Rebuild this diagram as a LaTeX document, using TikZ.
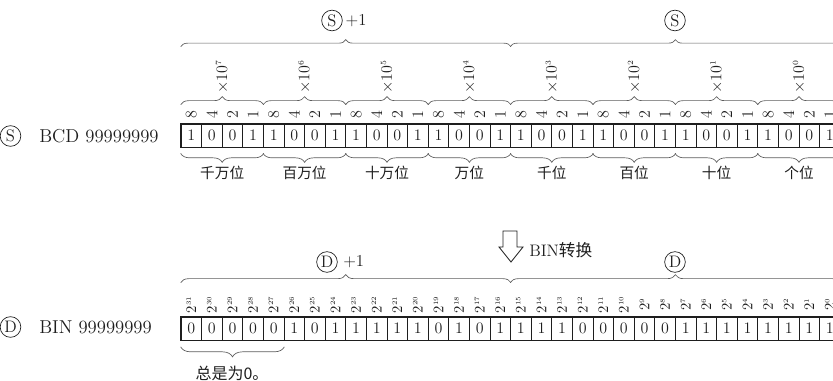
\documentclass[tikz,border=0pt]{standalone}
\usepackage{fontspec}
\newfontfamily\cjk{Noto Sans CJK SC}
\usetikzlibrary{positioning,calc,decorations.pathreplacing}
\definecolor{ink}{HTML}{1E1E1E}
\definecolor{braceGray}{HTML}{5C5C5C}
\tikzset{
  cell/.style={draw=ink,line width=0.5pt,minimum width=15.45pt,minimum height=17.25pt,
               inner sep=0pt,text=ink,font=\fontsize{12}{12}\selectfont},
  weight/.style={rotate=90,inner sep=0pt,text=ink,font=\fontsize{12}{12}\selectfont},
  pow/.style={rotate=90,inner sep=0pt,text=ink,font=\fontsize{11}{11}\selectfont},
  decade/.style={rotate=90,inner sep=0pt,text=ink,font=\fontsize{13}{13}\selectfont},
  grp brace/.style={draw=braceGray,line width=0.5pt,decorate,decoration={brace,amplitude=#1}},
  circ/.style={circle,draw=ink,line width=0.5pt,inner sep=0pt,minimum size=15.5pt,
               text=ink,font=\fontsize{12.5}{12.5}\selectfont},
  lbl/.style={inner sep=0pt,text=ink,font=\fontsize{12.5}{12.5}\selectfont},
  place/.style={inner sep=0pt,text=ink,font=\cjk\fontsize{11}{11}\selectfont}
}
\begin{document}
\begin{tikzpicture}[x=0.75pt,y=-0.75pt]
  \useasboundingbox (0,0) rectangle (833,381);
  \clip (0,0) rectangle (833,381);

  % BCD register
  \node[circ] (sName) at (10.5,136) {S};
  \node[lbl,font=\fontsize{14}{14}\selectfont,anchor=west] (sText) at (39,136) {BCD 99999999};
  \foreach \v [count=\i from 0] in {1,0,0,1,1,0,0,1,1,0,0,1,1,0,0,1,
                                    1,0,0,1,1,0,0,1,1,0,0,1,1,0,0,1} {
    \node[cell] (tc\i) at (191.3+20.6*\i,135.5) {\v};
    \pgfmathtruncatemacro\w{2^(3-mod(\i,4))}
    \node[weight] (tw\i) at ($(tc\i.north)+(0,-9)$) {\w};
  }
  \draw[line width=0.9pt,ink] (tc0.north west) rectangle (tc31.south east);

  % decades and digit places
  \foreach \g/\name in {0/千万位,1/百万位,2/十万位,3/万位,4/千位,5/百位,6/十位,7/个位} {
    \pgfmathtruncatemacro\a{4*\g}
    \pgfmathtruncatemacro\b{4*\g+3}
    \pgfmathtruncatemacro\p{7-\g}
    \draw[grp brace=6pt] ($(tc\a.north west)+(0,-19)$) -- ($(tc\b.north east)+(0,-19)$);
    \node[decade] (tx\g) at ($(tc\a.north west)!0.5!(tc\b.north east)+(0,-47)$)
      {$\times10^{\scriptscriptstyle\p}$};
    \draw[grp brace=6.75pt] ($(tc\b.south east)+(0,6)$) -- ($(tc\a.south west)+(0,6)$);
    \node[place] (tp\g) at ($(tc\a.south west)!0.5!(tc\b.south east)+(0,26)$) {\name};
  }

  % upper and lower word
  \draw[grp brace=5.25pt] ($(tc0.north west)+(0,-77)$) -- ($(tc15.north east)+(0,-77)$);
  \draw[grp brace=5.25pt] ($(tc16.north west)+(0,-77)$) -- ($(tc31.north east)+(0,-77)$);
  \node[circ] (sHi) at (332,20.5) {S};
  \node[lbl,right=2pt of sHi] (sHiPlus) {+1};
  \node[circ] (sLo) at (675,20.5) {S};

  % conversion
  \draw[ink,line width=0.6pt,fill=white] (503,231) -- (517,231) -- (517,247) -- (523,247)
    -- (511,262) -- (499,247) -- (503,247) -- cycle;
  \node[lbl,anchor=west] (conv) at (529,250) {BIN{\cjk 转换}};

  % BIN register
  \node[circ] (dName) at (10.5,327) {D};
  \node[lbl,font=\fontsize{14}{14}\selectfont,anchor=west] (dText) at (39,327) {BIN 99999999};
  \foreach \v [count=\i from 0] in {0,0,0,0,0,1,0,1,1,1,1,1,0,1,0,1,
                                    1,1,1,0,0,0,0,0,1,1,1,1,1,1,1,1} {
    \node[cell] (bc\i) at (191.3+20.6*\i,328.5) {\v};
    \pgfmathtruncatemacro\e{31-\i}
    \node[pow] (bw\i) at ($(bc\i.north)+(0,-12)$) {$2^{\scriptscriptstyle\e}$};
  }
  \draw[line width=0.9pt,ink] (bc0.north west) rectangle (bc31.south east);

  \draw[grp brace=6pt] ($(bc0.north west)+(0,-34)$) -- ($(bc15.north east)+(0,-34)$);
  \draw[grp brace=6pt] ($(bc16.north west)+(0,-34)$) -- ($(bc31.north east)+(0,-34)$);
  \node[circ] (dHi) at (327,262) {D};
  \node[lbl,right=4pt of dHi] (dHiPlus) {+1};
  \node[circ] (dLo) at (675,262) {D};

  % always zero
  \draw[grp brace=7.5pt] ($(bc4.south east)+(0,6.5)$) -- ($(bc0.south west)+(0,6.5)$);
  \node[inner sep=0pt,text=ink,font=\cjk\fontsize{12}{12}\selectfont] (zero) at (232,373) {总是为0。};
\end{tikzpicture}
\end{document}
